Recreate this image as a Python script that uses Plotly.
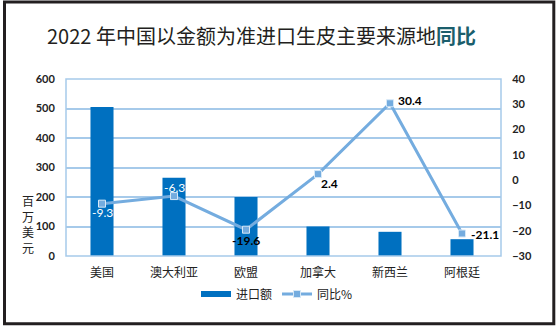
import plotly.graph_objects as go

categories = ["美国", "澳大利亚", "欧盟", "加拿大", "新西兰", "阿根廷"]
import_values = [505, 265, 200, 100, 82, 57]
yoy_values = [-9.3, -6.3, -19.6, 2.4, 30.4, -21.1]
left_ticks = [0, 100, 200, 300, 400, 500, 600]
right_ticks = [-30, -20, -10, 0, 10, 20, 30, 40]

W, H = 558, 328
L, R, T, B = 66, 501, 79, 256
pw, ph = R - L, B - T

def px_x(p):
    return (p - L) / pw

def px_y(p):
    return (B - p) / ph

BAR = "#0070C0"
LINE = "#74ACDF"
GRID = "#A6CAEA"
CJK = "Noto Sans CJK SC"
NUM = "Lato"

fig = go.Figure()
fig.add_trace(go.Bar(x=categories, y=import_values, name="进口额", showlegend=False,
                     marker=dict(color=BAR, line=dict(width=0)), width=0.32))
# legend stand-in for the bars (wide flat swatch like the reference)
fig.add_trace(go.Scatter(x=[None], y=[None], mode="lines", name="进口额",
                         line=dict(color=BAR, width=6)))
fig.add_trace(go.Scatter(x=categories, y=yoy_values, name="同比%", yaxis="y2",
                         mode="lines+markers",
                         line=dict(color=LINE, width=3),
                         marker=dict(symbol="square", size=7, color=LINE,
                                     line=dict(color="#D6E8F7", width=1))))

# data labels: (xshift, yshift, xanchor, color)
label_style = [
    (0, -9, "center", "white"),
    (0, 9, "center", "white"),
    (0, -11, "center", "black"),
    (1, -9, "left", "black"),
    (6, 3, "left", "black"),
    (7, -1, "left", "black"),
]
anns = []
for c, v, (xs, ys, xa, col) in zip(categories, yoy_values, label_style):
    anns.append(dict(x=c, y=v, xref="x", yref="y2", text=f"{v}", showarrow=False,
                     xshift=xs, yshift=ys, xanchor=xa, yanchor="middle",
                     font=dict(family=NUM, size=12, color=col,
                               weight="bold" if col == "black" else "normal")))

# y axis title stacked characters
anns.append(dict(x=px_x(28), y=px_y(224), xref="paper", yref="paper",
                 text="百<br>万<br>美<br>元", showarrow=False, xanchor="center", yanchor="middle",
                 font=dict(family=CJK, size=12, color="#222")))

# title
anns.append(dict(x=px_x(261), y=px_y(36), xref="paper", yref="paper",
                 text="2022 年中国以金额为准进口生皮主要来源地<b><span style='color:#1B5E6C'>同比</span></b>",
                 showarrow=False, xanchor="center", yanchor="middle",
                 font=dict(family=CJK, size=20, color="#231F20")))

shapes = [
    dict(type="rect", xref="paper", yref="paper",
         x0=px_x(4.5), x1=px_x(553.8), y0=px_y(323.8), y1=px_y(2),
         line=dict(color="#231F20", width=3), layer="below"),
    dict(type="rect", xref="paper", yref="paper", x0=0, x1=1, y0=0, y1=1,
         line=dict(color=GRID, width=1.5), layer="above"),
]

fig.update_layout(
    width=W, height=H,
    margin=dict(l=L, r=W - R, t=T, b=H - B, pad=0),
    paper_bgcolor="white", plot_bgcolor="white",
    showlegend=True,
    legend=dict(orientation="h", x=px_x(277), y=px_y(294), xanchor="center", yanchor="middle",
                font=dict(family=CJK, size=12, color="#222"), itemwidth=30,
                traceorder="normal"),
    xaxis=dict(showgrid=False, showline=False, ticks="outside", ticklen=6,
               tickcolor="rgba(0,0,0,0)", zeroline=False,
               tickfont=dict(family=CJK, size=12, color="#222")),
    yaxis=dict(range=[0, 600], tickvals=left_ticks, showgrid=True, gridcolor=GRID,
               gridwidth=1.5, zeroline=False, showline=False, ticks="outside",
               ticklen=8, tickcolor="rgba(0,0,0,0)",
               tickfont=dict(family=NUM, size=11, color="#222", weight="bold")),
    yaxis2=dict(range=[-30, 40], tickvals=right_ticks, overlaying="y", side="right",
                showgrid=False, zeroline=False, showline=False, ticks="outside",
                ticklen=8, tickcolor="rgba(0,0,0,0)",
                tickfont=dict(family=NUM, size=11, color="#222", weight="bold")),
    annotations=anns, shapes=shapes,
)

fig.write_html("out.html")
